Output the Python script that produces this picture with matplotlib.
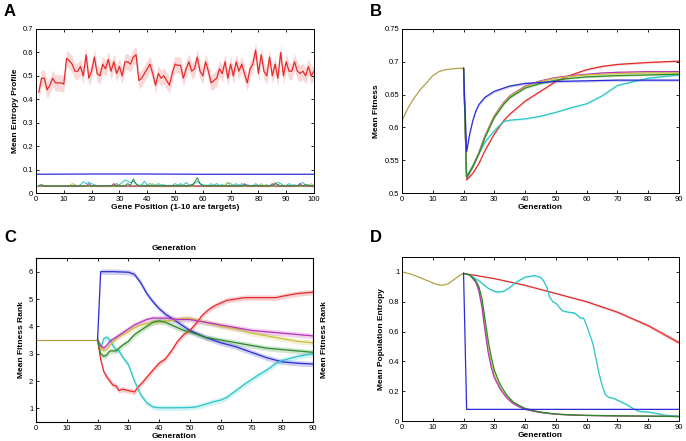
import matplotlib
matplotlib.use("Agg")
import matplotlib.pyplot as plt
import numpy as np

plt.rcParams['font.family'] = ['Liberation Sans', 'DejaVu Sans']

# ---------------- colours ----------------
C_RED = '#e52b2b'
C_BLUE = '#2b2bd6'
C_CYAN = '#2cc6c6'
C_GREEN = '#2a8a2a'
C_MAG = '#b832b8'
C_YEL = '#c9bf3a'
C_OLIVE = '#b0a048'

# ---------------- Panel A data ----------------
A_pos = list(range(1, 101))
A_red = [0.43, 0.49, 0.49, 0.44, 0.46, 0.49, 0.47, 0.47, 0.47, 0.465,
         0.575, 0.565, 0.55, 0.52, 0.52, 0.54, 0.50, 0.59, 0.49, 0.52,
         0.58, 0.51, 0.50, 0.55, 0.53, 0.57, 0.52, 0.56, 0.51, 0.54,
         0.50, 0.56, 0.56, 0.55, 0.58, 0.59, 0.48, 0.49, 0.51, 0.53,
         0.55, 0.51, 0.46, 0.51, 0.49, 0.50, 0.48, 0.46, 0.51, 0.55,
         0.545, 0.545, 0.49, 0.53, 0.56, 0.52, 0.53, 0.58, 0.52, 0.50,
         0.56, 0.52, 0.47, 0.48, 0.49, 0.53, 0.51, 0.56, 0.49, 0.55,
         0.50, 0.56, 0.52, 0.55, 0.51, 0.47, 0.53, 0.55, 0.61, 0.51,
         0.59, 0.52, 0.50, 0.58, 0.50, 0.55, 0.49, 0.60, 0.50, 0.56,
         0.52, 0.52, 0.56, 0.52, 0.51, 0.52, 0.50, 0.54, 0.50, 0.52]
A_red_sem = 0.035
A_blue_pos = [0, 20, 40, 60, 80, 100]
A_blue = [0.080, 0.081, 0.081, 0.080, 0.080, 0.080]
A_olive_pos = [0, 100]
A_olive = [0.028, 0.028]
A_cyan = [0.033, 0.030, 0.031, 0.030, 0.030, 0.030, 0.030, 0.030, 0.030, 0.030,
          0.030, 0.030, 0.032, 0.031, 0.030, 0.035, 0.048, 0.040, 0.045, 0.040,
          0.035, 0.032, 0.030, 0.031, 0.030, 0.032, 0.030, 0.033, 0.040, 0.035,
          0.045, 0.055, 0.050, 0.045, 0.050, 0.040, 0.032, 0.035, 0.050, 0.035,
          0.040, 0.035, 0.033, 0.040, 0.034, 0.035, 0.032, 0.033, 0.032, 0.040,
          0.034, 0.040, 0.033, 0.045, 0.035, 0.033, 0.040, 0.050, 0.040, 0.035,
          0.033, 0.032, 0.040, 0.033, 0.040, 0.033, 0.035, 0.032, 0.045, 0.040,
          0.033, 0.040, 0.033, 0.040, 0.034, 0.035, 0.032, 0.031, 0.040, 0.033,
          0.031, 0.032, 0.035, 0.031, 0.033, 0.040, 0.045, 0.040, 0.033, 0.032,
          0.040, 0.033, 0.035, 0.031, 0.040, 0.045, 0.033, 0.035, 0.031, 0.030]
A_green_pos = [1, 2, 3, 10, 32, 33, 34, 35, 36, 37, 56, 57, 58, 59, 60, 85, 86, 87, 88, 96, 97, 98, 100]
A_green = [0.031, 0.036, 0.030, 0.030, 0.031, 0.040, 0.033, 0.060, 0.038, 0.031,
           0.031, 0.045, 0.065, 0.040, 0.031, 0.031, 0.040, 0.036, 0.031, 0.031,
           0.036, 0.031, 0.030]
A_yel_pos = [1, 12, 13, 14, 15, 28, 29, 30, 41, 42, 43, 51, 52, 53, 68, 69, 70, 80, 81, 82, 85, 86, 87, 98, 99, 100]
A_yel = [0.030, 0.031, 0.040, 0.036, 0.030, 0.031, 0.040, 0.031, 0.031, 0.040, 0.031,
         0.031, 0.036, 0.031, 0.031, 0.045, 0.031, 0.031, 0.040, 0.031, 0.031, 0.045,
         0.031, 0.031, 0.040, 0.031]
A_mag_pos = [1, 18, 19, 20, 27, 28, 29, 55, 56, 57, 74, 75, 76, 84, 85, 86, 94, 95, 96, 100]
A_mag = [0.030, 0.030, 0.040, 0.030, 0.030, 0.040, 0.030, 0.030, 0.036, 0.030,
         0.030, 0.040, 0.030, 0.030, 0.040, 0.030, 0.030, 0.040, 0.030, 0.030]

# ---------------- Panel B data ----------------
B_pre_gen = [0, 2, 4, 6, 8, 10, 12, 14, 16, 18, 20]
B_pre = [0.610, 0.630, 0.645, 0.658, 0.668, 0.679, 0.685, 0.688, 0.689, 0.690, 0.690]
B_blue_gen = [20, 21, 22, 23, 24, 25, 27, 30, 35, 40, 50, 60, 70, 80, 90]
B_blue = [0.690, 0.563, 0.590, 0.610, 0.625, 0.635, 0.646, 0.655, 0.663, 0.667, 0.670, 0.671, 0.672, 0.672, 0.672]
B_gen = [20, 21, 23, 25, 27, 30, 33, 35, 40, 45, 50, 55, 60, 65, 70, 80, 90]
B_green = [0.690, 0.524, 0.540, 0.560, 0.585, 0.615, 0.635, 0.645, 0.660, 0.667, 0.672, 0.675, 0.677, 0.678, 0.679, 0.680, 0.681]
B_mag = [0.690, 0.522, 0.540, 0.562, 0.588, 0.618, 0.638, 0.648, 0.663, 0.671, 0.676, 0.679, 0.681, 0.683, 0.684, 0.685, 0.685]
B_yel = [0.690, 0.523, 0.540, 0.561, 0.587, 0.617, 0.637, 0.647, 0.662, 0.670, 0.675, 0.678, 0.680, 0.681, 0.682, 0.683, 0.683]
B_red = [0.690, 0.520, 0.530, 0.545, 0.565, 0.590, 0.610, 0.620, 0.640, 0.655, 0.670, 0.680, 0.688, 0.693, 0.696, 0.699, 0.701]
B_cyan = [0.690, 0.525, 0.542, 0.560, 0.578, 0.595, 0.609, 0.611, 0.613, 0.617, 0.623, 0.630, 0.636, 0.648, 0.664, 0.675, 0.680]

# ---------------- Panel C data ----------------
C_pre_gen = [0, 20]
C_pre = [3.5, 3.5]
C_blue_gen = [20, 21, 25, 30, 32, 34, 36, 38, 40, 42, 44, 46, 48, 50, 52, 55, 60, 65, 70, 75, 80, 85, 90]
C_blue = [3.5, 6.0, 6.0, 5.98, 5.9, 5.6, 5.2, 4.9, 4.65, 4.45, 4.3, 4.15, 4.0, 3.85, 3.75, 3.6, 3.4, 3.25, 3.05, 2.85, 2.7, 2.65, 2.62]
C_red_gen = [20, 21, 22, 23, 24, 25, 26, 27, 28, 30, 32, 33, 35, 38, 40, 42, 44, 46, 48, 50, 52, 54, 56, 58, 60, 62, 65, 68, 70, 75, 78, 80, 85, 90]
C_red = [3.5, 2.8, 2.35, 2.15, 2.0, 1.85, 1.82, 1.65, 1.7, 1.65, 1.6, 1.75, 2.0, 2.4, 2.65, 2.8, 3.1, 3.45, 3.7, 3.85, 4.1, 4.4, 4.6, 4.75, 4.85, 4.95, 5.0, 5.05, 5.05, 5.05, 5.05, 5.1, 5.2, 5.25]
C_cyan_gen = [20, 21, 22, 23, 24, 25, 26, 27, 28, 30, 32, 34, 36, 38, 40, 45, 50, 52, 55, 58, 60, 62, 65, 68, 70, 72, 75, 78, 80, 85, 90]
C_cyan = [3.5, 3.2, 3.55, 3.6, 3.5, 3.3, 3.15, 3.1, 2.9, 2.6, 2.0, 1.5, 1.2, 1.05, 1.02, 1.02, 1.03, 1.05, 1.15, 1.25, 1.3, 1.4, 1.65, 1.9, 2.05, 2.2, 2.4, 2.65, 2.75, 2.9, 3.0]
C_gen = [20, 21, 22, 23, 24, 26, 28, 30, 32, 34, 36, 38, 40, 42, 44, 46, 48, 50, 55, 60, 65, 70, 75, 80, 85, 90]
C_green = [3.5, 3.0, 2.9, 2.95, 3.1, 3.1, 3.3, 3.45, 3.7, 3.85, 4.0, 4.15, 4.2, 4.15, 4.05, 3.95, 3.85, 3.8, 3.6, 3.5, 3.4, 3.3, 3.2, 3.15, 3.1, 3.05]
C_mag = [3.5, 3.3, 3.2, 3.3, 3.45, 3.6, 3.75, 3.9, 4.05, 4.15, 4.25, 4.3, 4.3, 4.3, 4.28, 4.25, 4.25, 4.25, 4.15, 4.05, 3.95, 3.85, 3.8, 3.75, 3.7, 3.65]
C_yel = [3.5, 3.2, 3.1, 3.15, 3.3, 3.55, 3.7, 3.8, 3.95, 4.05, 4.1, 4.15, 4.15, 4.2, 4.22, 4.25, 4.3, 4.3, 4.15, 4.0, 3.9, 3.75, 3.65, 3.55, 3.45, 3.4]
C_sem = 0.1

# ---------------- Panel D data ----------------
D_pre_gen = [0, 3, 6, 9, 11, 13, 15, 17, 19, 20]
D_pre = [1.0, 0.985, 0.96, 0.935, 0.918, 0.91, 0.92, 0.95, 0.98, 0.99]
D_blue_gen = [20, 21, 90]
D_blue = [0.99, 0.078, 0.078]
D_red_gen = [20, 30, 40, 50, 60, 70, 80, 90]
D_red = [0.99, 0.955, 0.91, 0.855, 0.80, 0.73, 0.64, 0.525]
D_red_sem = [0.0, 0.002, 0.003, 0.004, 0.006, 0.008, 0.010, 0.013]
D_cyan_gen = [20, 22, 25, 28, 30, 31, 33, 35, 37, 40, 43, 45, 46, 47, 48, 49, 50, 52, 54, 56, 57, 58, 59, 60,
              61, 62, 63, 64, 65, 66, 67, 69, 71, 73, 75, 77, 80, 83, 85, 88, 90]
D_cyan = [0.99, 0.98, 0.94, 0.89, 0.87, 0.865, 0.87, 0.895, 0.93, 0.965, 0.975, 0.965, 0.94, 0.90, 0.83, 0.80,
          0.79, 0.74, 0.73, 0.725, 0.71, 0.69, 0.69, 0.64, 0.58, 0.52, 0.42, 0.32, 0.24, 0.18, 0.16, 0.15,
          0.13, 0.11, 0.085, 0.065, 0.06, 0.05, 0.04, 0.035, 0.032]
D_gen = [20, 22, 24, 25, 26, 27, 28, 29, 30, 32, 34, 36, 38, 40, 43, 46, 50, 55, 60, 70, 80, 90]
D_green = [0.99, 0.98, 0.94, 0.90, 0.82, 0.68, 0.54, 0.43, 0.34, 0.24, 0.175, 0.13, 0.105, 0.085, 0.068, 0.057, 0.047, 0.041, 0.038, 0.035, 0.033, 0.030]
D_mag = [0.99, 0.98, 0.93, 0.87, 0.76, 0.60, 0.46, 0.36, 0.29, 0.21, 0.155, 0.118, 0.095, 0.078, 0.064, 0.054, 0.045, 0.040, 0.037, 0.034, 0.032, 0.030]
D_yel = [0.99, 0.98, 0.935, 0.88, 0.78, 0.63, 0.49, 0.39, 0.31, 0.22, 0.165, 0.125, 0.10, 0.08, 0.066, 0.055, 0.046, 0.040, 0.037, 0.034, 0.032, 0.030]

# ---------------- figure ----------------
fig = plt.figure(figsize=(6.86, 4.41), dpi=100)
W, H = 686.0, 441.0


def make_ax(l, r, t, b):
    return fig.add_axes([l / W, 1 - b / H, (r - l) / W, (b - t) / H])


def style(ax):
    ax.tick_params(direction='in', top=True, right=True, labelsize=5.5, length=2.5, width=0.6, pad=2)
    for s in ax.spines.values():
        s.set_linewidth(0.7)


LW = 0.9
LAB = dict(fontsize=6, fontweight='bold')

# Panel A
axA = make_ax(36, 314, 29, 193)
x = np.array(A_pos)
yr = np.array(A_red)
axA.fill_between(x, yr - A_red_sem, yr + A_red_sem, color=C_RED, alpha=0.18, lw=0)
axA.plot(x, yr, color=C_RED, lw=LW)
axA.plot(A_blue_pos, A_blue, color=C_BLUE, lw=LW)
axA.plot(A_olive_pos, A_olive, color=C_OLIVE, lw=LW)
axA.plot(A_pos, A_cyan, color=C_CYAN, lw=0.7)
axA.plot(A_yel_pos, A_yel, color=C_YEL, lw=0.7)
axA.plot(A_mag_pos, A_mag, color=C_MAG, lw=0.7)
axA.plot(A_green_pos, A_green, color=C_GREEN, lw=0.7)
axA.set_xlim(0, 100)
axA.set_ylim(0, 0.7)
axA.set_xticks(range(0, 101, 10))
axA.set_yticks(np.arange(0, 0.71, 0.1))
axA.set_yticklabels(['0', '0.1', '0.2', '0.3', '0.4', '0.5', '0.6', '0.7'])
axA.set_xlabel('Gene Position (1-10 are targets)', labelpad=1, **LAB)
axA.set_ylabel('Mean Entropy Profile', labelpad=3, **LAB)
style(axA)

# Panel B
axB = make_ax(402, 679, 29, 193)
axB.plot(B_pre_gen, B_pre, color=C_OLIVE, lw=LW)
for ys, c in [(B_red, C_RED), (B_cyan, C_CYAN), (B_mag, C_MAG), (B_yel, C_YEL), (B_green, C_GREEN)]:
    axB.fill_between(B_gen, np.array(ys) - 0.0015, np.array(ys) + 0.0015, color=c, alpha=0.2, lw=0)
    axB.plot(B_gen, ys, color=c, lw=LW)
axB.fill_between(B_blue_gen, np.array(B_blue) - 0.002, np.array(B_blue) + 0.002, color=C_BLUE, alpha=0.2, lw=0)
axB.plot(B_blue_gen, B_blue, color=C_BLUE, lw=LW)
axB.set_xlim(0, 90)
axB.set_ylim(0.5, 0.75)
axB.set_xticks(range(0, 91, 10))
axB.set_yticks([0.5, 0.55, 0.6, 0.65, 0.7, 0.75])
axB.set_yticklabels(['0.5', '0.55', '0.6', '0.65', '0.7', '0.75'])
axB.set_xlabel('Generation', labelpad=1, **LAB)
axB.set_ylabel('Mean Fitness', labelpad=3, **LAB)
style(axB)

# Panel C
axC = make_ax(36, 313, 258, 422)
axC.plot(C_pre_gen, C_pre, color=C_OLIVE, lw=LW)
series_C = [(C_blue_gen, C_blue, C_BLUE), (C_red_gen, C_red, C_RED), (C_cyan_gen, C_cyan, C_CYAN),
            (C_gen, C_yel, C_YEL), (C_gen, C_mag, C_MAG), (C_gen, C_green, C_GREEN)]
for gx, ys, c in series_C:
    ys = np.array(ys)
    axC.fill_between(gx, ys - C_sem, ys + C_sem, color=c, alpha=0.22, lw=0)
    axC.plot(gx, ys, color=c, lw=LW)
axC.set_xlim(0, 90)
axC.set_ylim(0.5, 6.5)
axC.set_xticks(range(0, 91, 10))
axC.set_yticks(range(1, 7))
axC.set_xlabel('Generation', labelpad=1, **LAB)
axC.set_ylabel('Mean Fitness Rank', labelpad=3, **LAB)
axC.set_title('Generation', pad=6, **LAB)
style(axC)
axC2 = axC.twinx()
axC2.set_ylim(0.5, 6.5)
axC2.set_yticks([])
axC2.set_ylabel('Mean Fitness Rank', labelpad=6, **LAB)

# Panel D
axD = make_ax(402, 679, 257, 421)
axD.plot(D_pre_gen, D_pre, color=C_OLIVE, lw=LW)
yr = np.array(D_red)
axD.fill_between(D_red_gen, yr - np.array(D_red_sem), yr + np.array(D_red_sem), color=C_RED, alpha=0.25, lw=0)
axD.plot(D_red_gen, D_red, color=C_RED, lw=LW)
yc = np.array(D_cyan)
axD.fill_between(D_cyan_gen, yc - 0.006, yc + 0.006, color=C_CYAN, alpha=0.25, lw=0)
axD.plot(D_cyan_gen, D_cyan, color=C_CYAN, lw=LW)
axD.plot(D_gen, D_yel, color=C_YEL, lw=LW)
axD.plot(D_gen, D_mag, color=C_MAG, lw=LW)
axD.plot(D_gen, D_green, color=C_GREEN, lw=LW)
axD.plot(D_blue_gen, D_blue, color=C_BLUE, lw=LW)
axD.set_xlim(0, 90)
axD.set_ylim(0, 1.1)
axD.set_xticks(range(0, 91, 10))
axD.set_yticks([0, 0.2, 0.4, 0.6, 0.8, 1.0])
axD.set_yticklabels(['0', '0.2', '0.4', '0.6', '0.8', '1'])
axD.set_xlabel('Generation', labelpad=1, **LAB)
axD.set_ylabel('Mean Population Entropy', labelpad=3, **LAB)
style(axD)

# Panel letters
for lt, px, py in [('A', 10, 12), ('B', 376, 12), ('C', 10, 237), ('D', 376, 237)]:
    fig.text(px / W, 1 - py / H, lt, fontsize=12, fontweight='bold', ha='center', va='center')

fig.savefig('out.png', dpi=100)
